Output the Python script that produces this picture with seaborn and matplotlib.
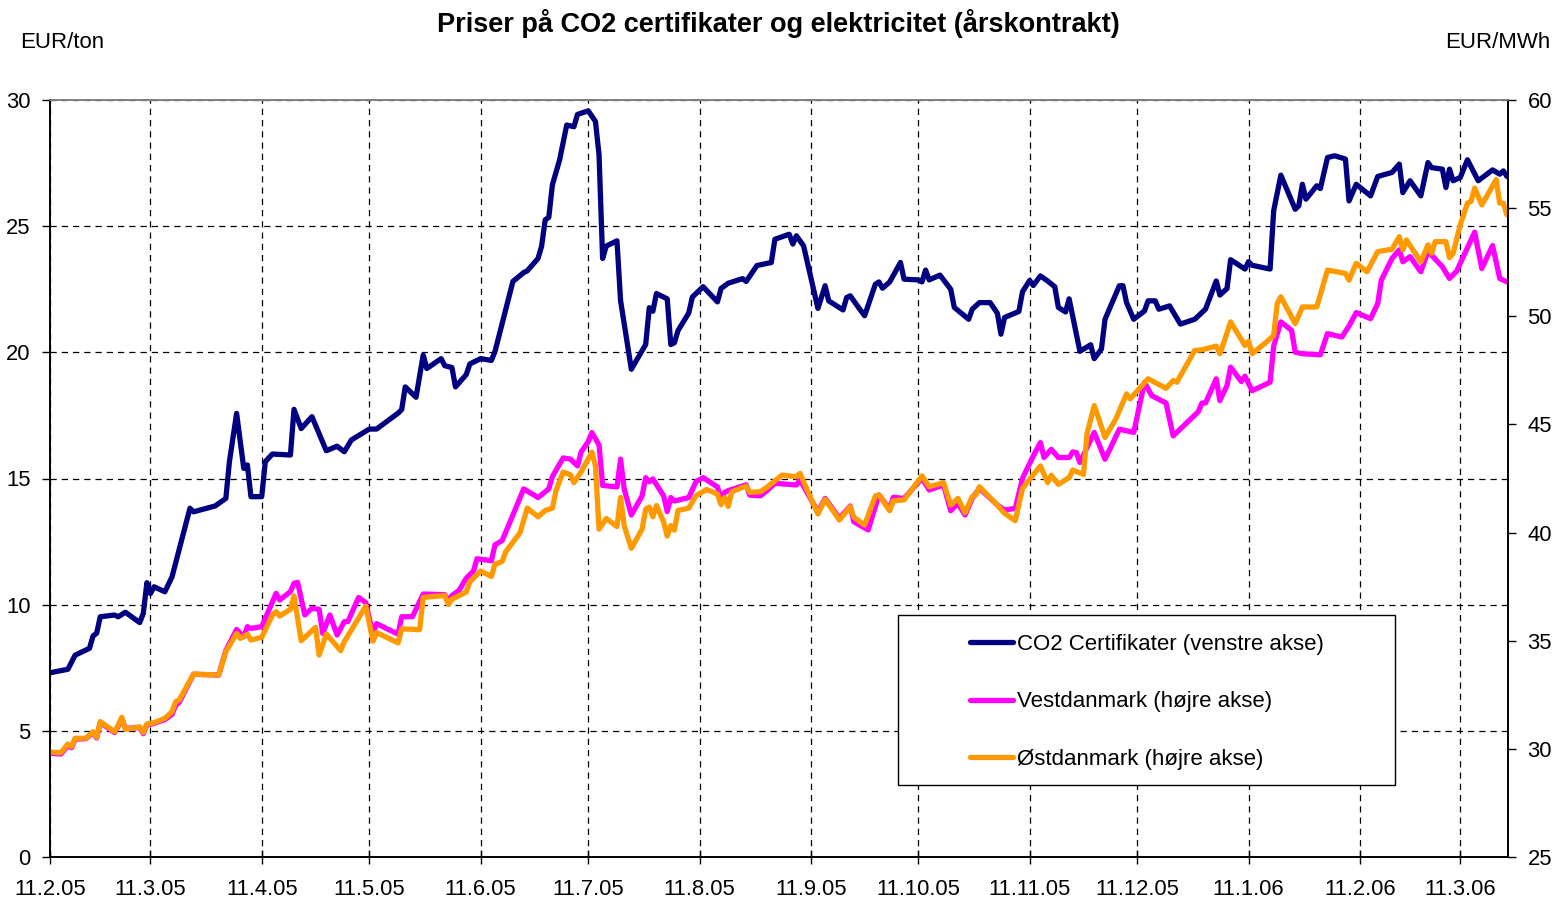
import pandas as pd
import matplotlib
matplotlib.use("Agg")
import matplotlib.pyplot as plt
import matplotlib.dates as mdates
from matplotlib.ticker import FuncFormatter
from matplotlib.patches import Rectangle
import seaborn as sns

# ---------------- data ----------------
START_DATE = "2005-02-11"          # first observation (11.2.05)
END_DAY = 406.3                    # last day shown, days after START_DATE

# CO2 certificates, EUR/ton (left axis); days after START_DATE
co2_days = [0, 5, 7, 11, 12, 13, 14, 18, 19, 21,
            25, 26, 27, 28, 29, 32, 34, 39, 40, 46,
            49, 50, 52, 54, 55, 56, 59, 60, 62, 67,
            68, 70, 73, 77, 80, 82, 84, 89, 91, 97,
            98, 99, 102, 103, 104, 105, 109, 110, 112, 113,
            116, 117, 120, 123, 124, 126, 129, 132, 133, 136,
            137, 138, 139, 140, 142, 144, 146, 147, 150, 152,
            153, 154, 155, 158, 159, 162, 166, 167, 168, 169,
            172, 173, 174, 175, 178, 179, 182, 186, 187, 189,
            193, 194, 197, 201, 202, 206, 207, 208, 210, 214,
            216, 217, 221, 222, 223, 225, 227, 230, 231, 232,
            234, 237, 238, 242, 243, 244, 245, 248, 251, 252,
            256, 257, 259, 262, 264, 265, 266, 270, 271, 273,
            274, 276, 278, 280, 281, 283, 284, 287, 290, 291,
            293, 294, 298, 299, 300, 302, 305, 306, 308, 309,
            312, 315, 319, 322, 325, 326, 328, 329, 333, 334,
            335, 340, 341, 343, 347, 348, 349, 350, 353, 354,
            356, 358, 361, 362, 364, 368, 370, 374, 376, 377,
            379, 382, 384, 385, 388, 389, 390, 391, 393, 395,
            398, 402, 404, 405, 406]
co2_values = [7.30, 7.44, 8.00, 8.27, 8.76, 8.87, 9.52, 9.59, 9.52, 9.70,
              9.29, 9.65, 10.87, 10.44, 10.71, 10.51, 11.10, 13.82, 13.68, 13.91,
              14.21, 15.67, 17.58, 15.40, 15.54, 14.28, 14.28, 15.67, 15.97, 15.93,
              17.74, 16.98, 17.45, 16.10, 16.28, 16.06, 16.53, 16.96, 16.96, 17.59,
              17.73, 18.63, 18.22, 19.05, 19.89, 19.36, 19.75, 19.47, 19.40, 18.63,
              19.12, 19.54, 19.75, 19.68, 20.03, 21.14, 22.81, 23.16, 23.23, 23.72,
              24.21, 25.25, 25.35, 26.64, 27.62, 29.01, 28.94, 29.43, 29.57, 29.15,
              27.83, 23.72, 24.21, 24.42, 22.05, 19.33, 20.31, 21.77, 21.63, 22.33,
              22.12, 20.31, 20.38, 20.86, 21.56, 22.19, 22.60, 22.00, 22.53, 22.74,
              22.92, 22.81, 23.44, 23.56, 24.48, 24.68, 24.29, 24.62, 24.22, 21.74,
              22.64, 22.04, 21.68, 22.17, 22.24, 21.84, 21.45, 22.70, 22.79, 22.54,
              22.79, 23.56, 22.90, 22.87, 22.79, 23.26, 22.87, 23.06, 22.50, 21.78,
              21.31, 21.71, 21.97, 21.97, 21.55, 20.72, 21.38, 21.62, 22.40, 22.85,
              22.65, 23.03, 22.83, 22.60, 21.78, 21.60, 22.12, 20.04, 20.30, 19.75,
              20.13, 21.31, 22.64, 22.64, 21.97, 21.31, 21.64, 22.04, 22.04, 21.71,
              21.84, 21.12, 21.31, 21.71, 22.83, 22.27, 22.53, 23.67, 23.30, 23.59,
              23.45, 23.30, 25.61, 27.02, 25.67, 25.81, 26.66, 26.07, 26.60, 26.49,
              27.72, 27.79, 27.66, 26.00, 26.66, 26.20, 26.97, 27.13, 27.46, 26.33,
              26.80, 26.20, 27.52, 27.32, 27.26, 26.53, 27.26, 26.80, 26.93, 27.63,
              26.80, 27.23, 27.06, 27.19, 26.97]

# Vestdanmark, EUR/MWh (right axis)
vest_days = [0, 3, 5, 6, 7, 10, 12, 13, 14, 18,
             19, 20, 21, 25, 26, 27, 29, 32, 34, 35,
             36, 40, 47, 49, 52, 54, 55, 56, 59, 63,
             64, 67, 68, 69, 71, 73, 75, 76, 78, 80,
             82, 83, 86, 88, 90, 91, 97, 98, 101, 104,
             110, 111, 112, 114, 116, 118, 119, 123, 124, 126,
             129, 132, 136, 139, 140, 143, 145, 147, 148, 150,
             151, 153, 154, 158, 159, 160, 162, 165, 166, 167,
             168, 171, 172, 173, 174, 178, 180, 182, 186, 187,
             188, 189, 194, 195, 198, 200, 202, 208, 209, 214,
             216, 220, 223, 224, 228, 231, 234, 235, 238, 243,
             245, 249, 251, 253, 255, 257, 259, 264, 266, 269,
             271, 273, 274, 276, 277, 279, 281, 284, 285, 286,
             287, 291, 294, 298, 302, 305, 307, 311, 313, 320,
             321, 322, 325, 326, 328, 329, 332, 333, 335, 340,
             341, 343, 346, 347, 349, 354, 356, 360, 362, 364,
             368, 370, 371, 374, 376, 377, 379, 382, 384, 385,
             388, 390, 392, 397, 399, 402, 404, 406]
vest_values = [29.80, 29.76, 30.15, 30.05, 30.45, 30.47, 30.75, 30.50, 31.22, 30.75,
               31.05, 31.40, 30.95, 30.98, 30.70, 31.10, 31.18, 31.35, 31.60, 32.00,
               32.15, 33.45, 33.41, 34.55, 35.52, 35.18, 35.65, 35.57, 35.65, 37.19,
               36.88, 37.27, 37.65, 37.70, 36.19, 36.50, 36.45, 35.34, 36.19, 35.26,
               35.88, 35.88, 37.00, 36.76, 35.30, 35.79, 35.30, 36.11, 36.11, 37.16,
               37.13, 36.84, 37.09, 37.33, 37.89, 38.22, 38.79, 38.70, 39.43, 39.63,
               40.81, 42.02, 41.62, 42.02, 42.59, 43.45, 43.40, 43.08, 43.72, 44.21,
               44.62, 44.05, 42.18, 42.11, 43.40, 42.02, 40.81, 41.70, 42.54, 42.35,
               42.48, 41.70, 40.97, 41.62, 41.46, 41.62, 42.35, 42.54, 42.11, 41.54,
               41.86, 41.94, 42.21, 41.73, 41.70, 41.97, 42.28, 42.20, 42.43, 40.96,
               41.58, 40.66, 41.23, 40.50, 40.12, 41.74, 41.08, 41.63, 41.58, 42.51,
               41.97, 42.20, 41.01, 41.35, 40.81, 41.58, 42.05, 41.27, 41.04, 41.12,
               42.51, 43.20, 43.54, 44.16, 43.47, 43.85, 43.47, 43.47, 43.73, 43.70,
               43.24, 44.63, 43.39, 44.78, 44.63, 46.95, 46.33, 45.99, 44.47, 45.59,
               45.99, 45.99, 47.11, 46.10, 46.80, 47.65, 46.98, 47.23, 46.56, 46.95,
               48.62, 49.74, 49.35, 48.34, 48.27, 48.22, 49.20, 49.04, 49.55, 50.17,
               49.89, 50.59, 51.67, 52.68, 53.07, 52.52, 52.76, 52.06, 52.99, 52.83,
               52.29, 51.75, 52.09, 53.89, 52.21, 53.27, 51.75, 51.59]

# Østdanmark, EUR/MWh (right axis)
ost_days = [0, 3, 5, 6, 7, 10, 12, 13, 14, 18,
            19, 20, 21, 25, 26, 27, 29, 32, 34, 35,
            36, 40, 47, 49, 52, 53, 55, 56, 59, 62,
            63, 64, 67, 68, 70, 74, 75, 77, 81, 82,
            88, 90, 91, 97, 98, 103, 104, 110, 111, 112,
            116, 117, 118, 120, 123, 124, 126, 127, 131, 133,
            136, 138, 140, 141, 143, 145, 146, 148, 151, 152,
            153, 155, 158, 159, 160, 162, 165, 166, 167, 168,
            169, 171, 172, 173, 174, 175, 178, 180, 183, 186,
            187, 188, 189, 190, 194, 195, 198, 200, 204, 208,
            209, 211, 214, 216, 220, 223, 224, 227, 230, 231,
            234, 235, 238, 243, 245, 249, 251, 253, 255, 257,
            258, 259, 264, 266, 269, 271, 273, 276, 278, 279,
            281, 284, 285, 288, 289, 291, 294, 297, 300, 301,
            306, 311, 313, 314, 319, 321, 325, 326, 327, 329,
            333, 334, 335, 339, 341, 342, 343, 344, 347, 349,
            353, 356, 361, 362, 364, 367, 370, 374, 376, 377,
            378, 382, 384, 385, 386, 389, 390, 391, 393, 395,
            396, 397, 399, 403, 404, 405, 406]
ost_values = [29.85, 29.82, 30.22, 30.10, 30.49, 30.49, 30.79, 30.53, 31.26, 30.79,
              31.10, 31.46, 30.90, 31.02, 30.75, 31.15, 31.21, 31.41, 31.72, 32.18,
              32.26, 33.46, 33.41, 34.49, 35.34, 35.11, 35.30, 35.03, 35.16, 36.19,
              36.34, 36.14, 36.45, 37.07, 35.00, 35.62, 34.34, 35.31, 34.54, 34.95,
              36.60, 34.98, 35.38, 34.90, 35.55, 35.51, 37.00, 37.09, 36.68, 36.92,
              37.25, 37.73, 37.89, 38.22, 37.97, 38.54, 38.66, 39.11, 40.00, 41.13,
              40.73, 41.02, 41.13, 41.94, 42.80, 42.67, 42.31, 42.80, 43.72, 43.08,
              40.16, 40.65, 40.28, 41.62, 40.32, 39.27, 40.16, 41.08, 41.18, 40.73,
              41.25, 40.49, 39.84, 40.32, 40.11, 41.02, 41.13, 41.70, 41.99, 41.78,
              41.29, 41.62, 41.21, 41.89, 42.15, 41.86, 41.89, 42.12, 42.66, 42.58,
              42.74, 41.97, 40.86, 41.54, 40.58, 41.20, 40.71, 40.35, 41.69, 41.74,
              41.01, 41.47, 41.51, 42.62, 42.12, 42.31, 41.27, 41.58, 40.92, 41.66,
              41.74, 42.12, 41.27, 40.89, 40.55, 42.05, 42.46, 43.08, 42.31, 42.65,
              42.23, 42.54, 42.89, 42.69, 44.59, 45.87, 44.40, 45.25, 46.41, 46.18,
              47.11, 46.67, 47.03, 46.95, 48.42, 48.45, 48.62, 48.27, 48.73, 49.74,
              48.65, 48.84, 48.27, 48.81, 49.12, 50.59, 50.90, 50.59, 49.66, 50.43,
              50.43, 52.14, 51.98, 51.67, 52.45, 52.06, 52.99, 53.10, 53.68, 53.07,
              53.53, 52.52, 53.30, 52.91, 53.45, 53.45, 52.71, 52.91, 54.23, 55.23,
              55.31, 55.93, 55.15, 56.32, 55.23, 55.23, 54.69]

series_labels = ["CO2 Certifikater (venstre akse)",
                 "Vestdanmark (højre akse)",
                 "Østdanmark (højre akse)"]
series_colors = ["#000080", "#FF00FF", "#FF9900"]
left_ticks = [0, 5, 10, 15, 20, 25, 30]
right_ticks = [25, 30, 35, 40, 45, 50, 55, 60]
title_text = "Priser på CO2 certifikater og elektricitet (årskontrakt)"
left_unit = "EUR/ton"
right_unit = "EUR/MWh"

# ---------------- build frames ----------------
start = pd.Timestamp(START_DATE)


def frame(days, values):
    return pd.DataFrame({"date": start + pd.to_timedelta(days, unit="D"),
                         "value": values})


co2_df = frame(co2_days, co2_values)
vest_df = frame(vest_days, vest_values)
ost_df = frame(ost_days, ost_values)

# ---------------- style ----------------
sns.set_theme(style="white")
plt.rcParams["font.family"] = ["Liberation Sans", "DejaVu Sans"]
plt.rcParams.update({"text.color": "black", "axes.labelcolor": "black",
                     "xtick.color": "black", "ytick.color": "black"})

W, H = 1566, 902
fig = plt.figure(figsize=(W / 100, H / 100), dpi=100)
fig.patch.set_facecolor("white")
ax = fig.add_axes([50 / W, 1 - 857 / H, 1458 / W, 757 / H])
ax2 = ax.twinx()

LW = 3.8
line_kw = dict(linewidth=LW, legend=False, solid_joinstyle="round",
               solid_capstyle="round")
sns.lineplot(data=co2_df, x="date", y="value", ax=ax,
             color=series_colors[0], **line_kw)
sns.lineplot(data=vest_df, x="date", y="value", ax=ax2,
             color=series_colors[1], **line_kw)
sns.lineplot(data=ost_df, x="date", y="value", ax=ax2,
             color=series_colors[2], **line_kw)
handles = [ax.lines[0], ax2.lines[0], ax2.lines[1]]

# axes ranges
ax.set_xlim(start, start + pd.Timedelta(days=END_DAY))
ax.set_ylim(left_ticks[0], left_ticks[-1])
ax.set_yticks(left_ticks)
ax2.set_ylim(right_ticks[0], right_ticks[-1])
ax2.set_yticks(right_ticks)

ax.xaxis.set_major_locator(mdates.MonthLocator(bymonthday=11))


def fmt_date(v, pos):
    d = mdates.num2date(v)
    return f"{d.day}.{d.month}.{d:%y}"


ax.xaxis.set_major_formatter(FuncFormatter(fmt_date))

for a in (ax, ax2):
    a.set_xlabel("")
    a.set_ylabel("")

# grid
ax.grid(True, color="black", linestyle=(0, (5, 4)), linewidth=0.9)
ax2.grid(False)

# ticks
TICK_FS = 15.8
ax.tick_params(axis="x", bottom=True, direction="inout", length=10, width=1,
               pad=11, labelsize=TICK_FS)
ax.tick_params(axis="y", left=True, direction="out", length=6, width=1,
               pad=8, labelsize=TICK_FS)
ax2.tick_params(axis="y", right=True, direction="out", length=6, width=1,
                pad=8, labelsize=TICK_FS)

# spines
for a in (ax, ax2):
    for s in ("left", "bottom", "right"):
        a.spines[s].set_color("black")
        a.spines[s].set_linewidth(1.2)
    a.spines["top"].set_color("#808080")
    a.spines["top"].set_linewidth(1.2)

# texts
fig.text(778 / W, 1 - 23 / H, title_text, ha="center", va="center",
         fontsize=19.5, fontweight="bold")
fig.text(20 / W, 1 - 42 / H, left_unit, ha="left", va="center", fontsize=16)
fig.text(1550 / W, 1 - 43 / H, right_unit, ha="right", va="center", fontsize=16)

# legend box and legend
box = Rectangle((898 / W, 1 - 785 / H), 497 / W, 170 / H,
                transform=fig.transFigure, facecolor="white",
                edgecolor="black", linewidth=1.0, zorder=2)
fig.patches.append(box)
fig.legend(handles, series_labels, loc="upper left",
           bbox_to_anchor=(970 / W, 1 - 634 / H), frameon=False,
           borderpad=0, borderaxespad=0, handlelength=1.95,
           handletextpad=0.18, labelspacing=1.64, fontsize=16)

fig.savefig("out.png", dpi=100, facecolor="white")
